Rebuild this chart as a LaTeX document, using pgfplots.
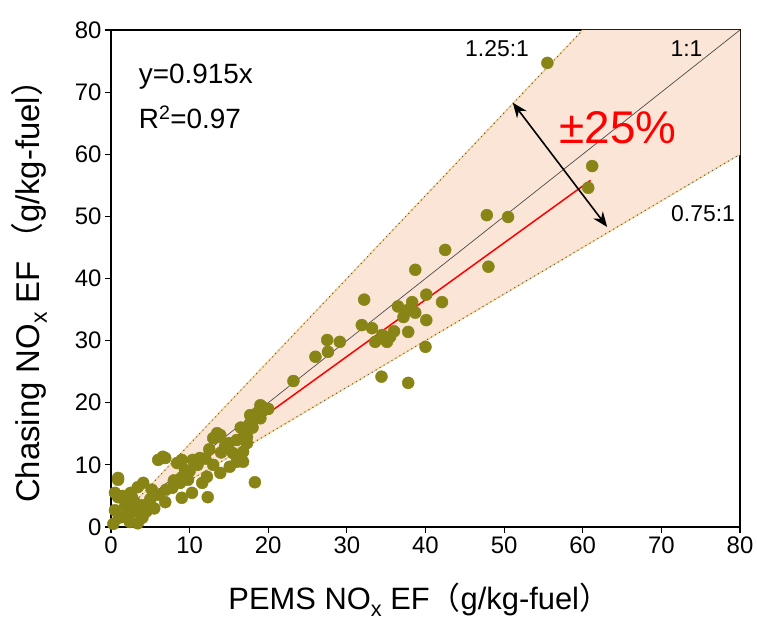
\documentclass[border=0pt]{standalone}
\usepackage{pgfplots}
\pgfplotsset{compat=1.18}
\usepackage{pgfplotstable}
\usepackage{fontspec}
\setmainfont{Liberation Sans}
\newfontfamily\cjk{Noto Sans CJK SC}
\usetikzlibrary{arrows.meta}
\definecolor{olivemk}{RGB}{136,132,22}
\definecolor{bandfill}{RGB}{251,229,214}
\definecolor{bandedge}{RGB}{245,212,150}
\definecolor{dotgray}{RGB}{90,90,80}
\newcommand{\subx}{\raisebox{-0.45ex}{\scalebox{0.7}{x}}}

\pgfplotstableread{
x y
55.5 74.7
61.2 58.1
60.7 54.6
50.5 49.9
47.8 50.2
48.0 41.9
42.5 44.6
42.1 36.2
40.1 37.4
38.7 41.4
37.7 34.9
38.3 36.2
37.2 33.8
38.7 34.5
36.5 35.5
40.1 33.3
37.8 31.4
40.0 29.0
32.2 36.6
31.9 32.5
33.2 32.0
35.5 30.6
35.1 29.8
33.6 29.8
34.5 30.9
36.0 31.5
27.5 30.1
29.1 29.8
27.6 28.2
26.0 27.4
34.4 24.2
37.8 23.2
23.2 23.5
19.3 19.3
19.0 19.6
18.6 18.4
17.7 18.0
17.7 16.7
17.3 14.5
17.3 13.5
16.8 12.1
16.8 10.5
13.9 14.8
13.5 15.1
13.0 14.3
13.5 14.5
11.3 11.1
10.4 10.8
14.8 12.9
15.5 11.9
16.0 10.5
15.1 9.7
18.3 7.2
13.9 8.7
12.2 8.1
11.6 7.1
12.3 4.8
13.0 10.0
9.4 9.2
9.0 10.8
8.4 10.3
6.9 11.1
6.0 10.8
6.6 11.3
0.9 7.6
0.9 7.9
4.1 7.1
3.4 6.4
5.2 6.0
7.8 6.3
8.8 7.1
9.8 7.6
0.9 4.8
0.5 2.7
2.7 4.7
6.9 4.0
9.0 4.7
10.3 5.5
2.4 0.8
3.4 0.6
1.5 1.6
1.0 1.5
2.0 2.2
3.0 2.5
4.0 3.5
5.0 4.5
6.0 5.2
7.0 6.0
8.0 7.5
9.0 8.0
10.0 9.0
11.0 10.0
12.0 11.0
14.0 12.0
15.0 13.5
16.0 14.0
17.0 15.5
18.0 16.0
19.0 17.5
20.0 19.0
0.3 0.5
1.8 3.5
2.5 5.5
4.5 2.5
5.5 3.0
16.5 16.0
18.0 17.0
14.5 13.0
12.5 12.5
0.5 5.5
1.5 5.0
3.0 4.0
4.0 1.5
}\pts

\begin{document}
\begin{tikzpicture}[x=1bp,y=1bp]
\path[use as bounding box] (-111,-99) rectangle (646,527);
\begin{axis}[
  at={(0,0)}, anchor=south west,
  scale only axis, width=629bp, height=497bp,
  xmin=0, xmax=80, ymin=0, ymax=80,
  xtick={0,10,...,80}, ytick={0,10,...,80},
  tick align=outside, tick pos=left,
  major tick length=6bp,
  axis line style={line width=1.3bp},
  every tick/.style={line width=1.1bp, black},
  tick label style={font=\fontsize{24}{24}\selectfont},
  /pgf/number format/assume math mode=true,
  xlabel={PEMS NO\subx{} EF{\cjk （}g/kg-fuel{\cjk ）}},
  ylabel={Chasing NO\subx{} EF\,{\cjk （}g/kg-fuel{\cjk ）}},
  xlabel style={font=\fontsize{31}{31}\selectfont, at={(rel axis cs:0.49,0)}, anchor=center, yshift=-73bp},
  ylabel style={font=\fontsize{33}{33}\selectfont, at={(rel axis cs:0,0.49)}, anchor=center, yshift=82bp},
]
\addplot[draw=none, fill=bandfill] coordinates {(0,0) (60,80) (80,80) (80,60) (0,0)};
\addplot[only marks, mark=*, mark size=6bp, color=olivemk] table[x=x,y=y] {\pts};
\addplot[color=bandedge, line width=1.4bp] coordinates {(0,0) (60,80)};
\addplot[color=bandedge, line width=1.4bp] coordinates {(0,0) (80,60)};
\addplot[color=dotgray, line width=1.4bp, line cap=round, dash pattern=on 0.1bp off 4.5bp] coordinates {(0,0) (60,80)};
\addplot[color=dotgray, line width=1.4bp, line cap=round, dash pattern=on 0.1bp off 4.5bp] coordinates {(0,0) (80,60)};
\addplot[color=gray!60!black, line width=0.7bp] coordinates {(0,0) (80,80)};
\addplot[color=red, line width=1.5bp] coordinates {(0,0) (61,55.8)};
\draw[{Stealth[length=15bp,width=12bp]}-{Stealth[length=15bp,width=12bp]}, line width=1.6bp] (axis cs:51.1,68.3) -- (axis cs:63.1,48.3);
\node[anchor=west, font=\fontsize{28}{28}\selectfont] at (axis cs:3.1,72.5) {y=0.915x};
\node[anchor=west, font=\fontsize{28}{28}\selectfont] at (axis cs:3.1,66.0) {R\textsuperscript{2}=0.97};
\node[font=\fontsize{23}{23}\selectfont] at (axis cs:49.1,77.0) {1.25:1};
\node[font=\fontsize{23}{23}\selectfont] at (axis cs:73.2,77.0) {1:1};
\node[font=\fontsize{23}{23}\selectfont] at (axis cs:75.3,50.4) {0.75:1};
\node[font=\fontsize{46}{46}\selectfont, text=red] at (axis cs:64.5,64.3) {±25\%};
\end{axis}
\end{tikzpicture}
\end{document}
